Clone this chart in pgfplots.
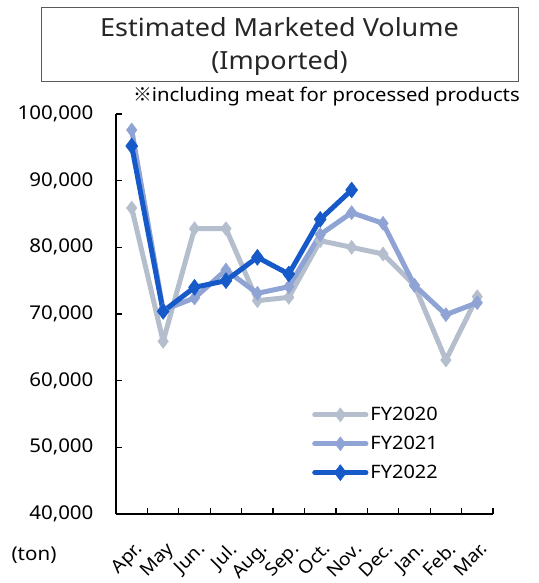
\documentclass[border=0pt]{standalone}
\usepackage{fontspec}
\setmainfont[FakeStretch=1.08]{Noto Sans}
\newfontfamily\cjk{Noto Sans CJK JP}
\usepackage{pgfplots}
\pgfplotsset{compat=1.18}
\definecolor{c20}{RGB}{180,190,205}
\definecolor{c21}{RGB}{143,164,212}
\definecolor{c22}{RGB}{21,90,200}
\begin{document}
\begin{tikzpicture}[x=1pt,y=1pt]
\useasboundingbox (0,0) rectangle (538,583);
\draw[draw=black!65, line width=1pt] (41,501) rectangle (518,575);
\node[font=\fontsize{25}{33}\selectfont, align=center, text=black!85] at (279.5,536) {Estimated Marketed Volume\\(Imported)};
\node[font=\fontsize{18.8}{20}\selectfont, anchor=east, inner sep=0pt] at (520,486) {{\cjk ※}including meat for processed products};
\node[font=\fontsize{19}{20}\selectfont] at (34,28) {(ton)};
\begin{axis}[
  at={(116pt,69pt)}, anchor=south west,
  width=377pt, height=400pt, scale only axis,
  xmin=-0.5, xmax=11.5, ymin=40000, ymax=100000,
  axis x line*=bottom, axis y line*=left,
  axis line style={line width=1.2pt, black},
  tick align=inside,
  xtick={0,...,11},
  xticklabels={Apr.,May,Jun.,Jul.,Aug.,Sep.,Oct.,Nov.,Dec.,Jan.,Feb.,Mar.},
  major x tick style={draw=none},
  minor xtick={-0.5,0.5,...,11.5},
  minor tick length=6pt,
  major tick length=6pt,
  tick style={line width=1.2pt, black},
  scaled y ticks=false,
  ytick={40000,50000,60000,70000,80000,90000,100000},
  yticklabels={{40,000},{50,000},{60,000},{70,000},{80,000},{90,000},{100,000}},
  yticklabel style={font=\fontsize{19}{20}\selectfont, xshift=-19pt},
  xticklabel style={font=\fontsize{18}{20}\selectfont, rotate=45, anchor=north east, xshift=-14pt, yshift=-17pt},
  legend style={at={(0.52,0.272)}, anchor=north west, draw=none, fill=none,
    font=\fontsize{18.5}{20}\selectfont, row sep=10pt, inner sep=0pt},
  legend cell align=left,
  legend image code/.code={\draw[mark repeat=2,mark phase=2,#1] plot coordinates {(0cm,0cm) (0.9cm,0cm) (1.8cm,0cm)};},
  every axis plot/.append style={line width=5pt, mark=diamond*, mark size=7pt, line join=round, line cap=round},
]
\addplot[c20, mark options={line width=0.5pt, fill=c20}] coordinates {
(0,85900) (1,65900) (2,82800) (3,82800) (4,72000) (5,72500) (6,81000) (7,80000) (8,79000) (9,74300) (10,63100) (11,72600)};
\addlegendentry{FY2020}
\addplot[c21, mark options={line width=0.5pt, fill=c21}] coordinates {
(0,97600) (1,70600) (2,72400) (3,76600) (4,73100) (5,74100) (6,81900) (7,85200) (8,83600) (9,74300) (10,69900) (11,71700)};
\addlegendentry{FY2021}
\addplot[c22, mark options={line width=0.5pt, fill=c22}, mark size=8pt] coordinates {
(0,95200) (1,70400) (2,74000) (3,75000) (4,78500) (5,76000) (6,84200) (7,88600)};
\addlegendentry{FY2022}
\end{axis}
\end{tikzpicture}
\end{document}
